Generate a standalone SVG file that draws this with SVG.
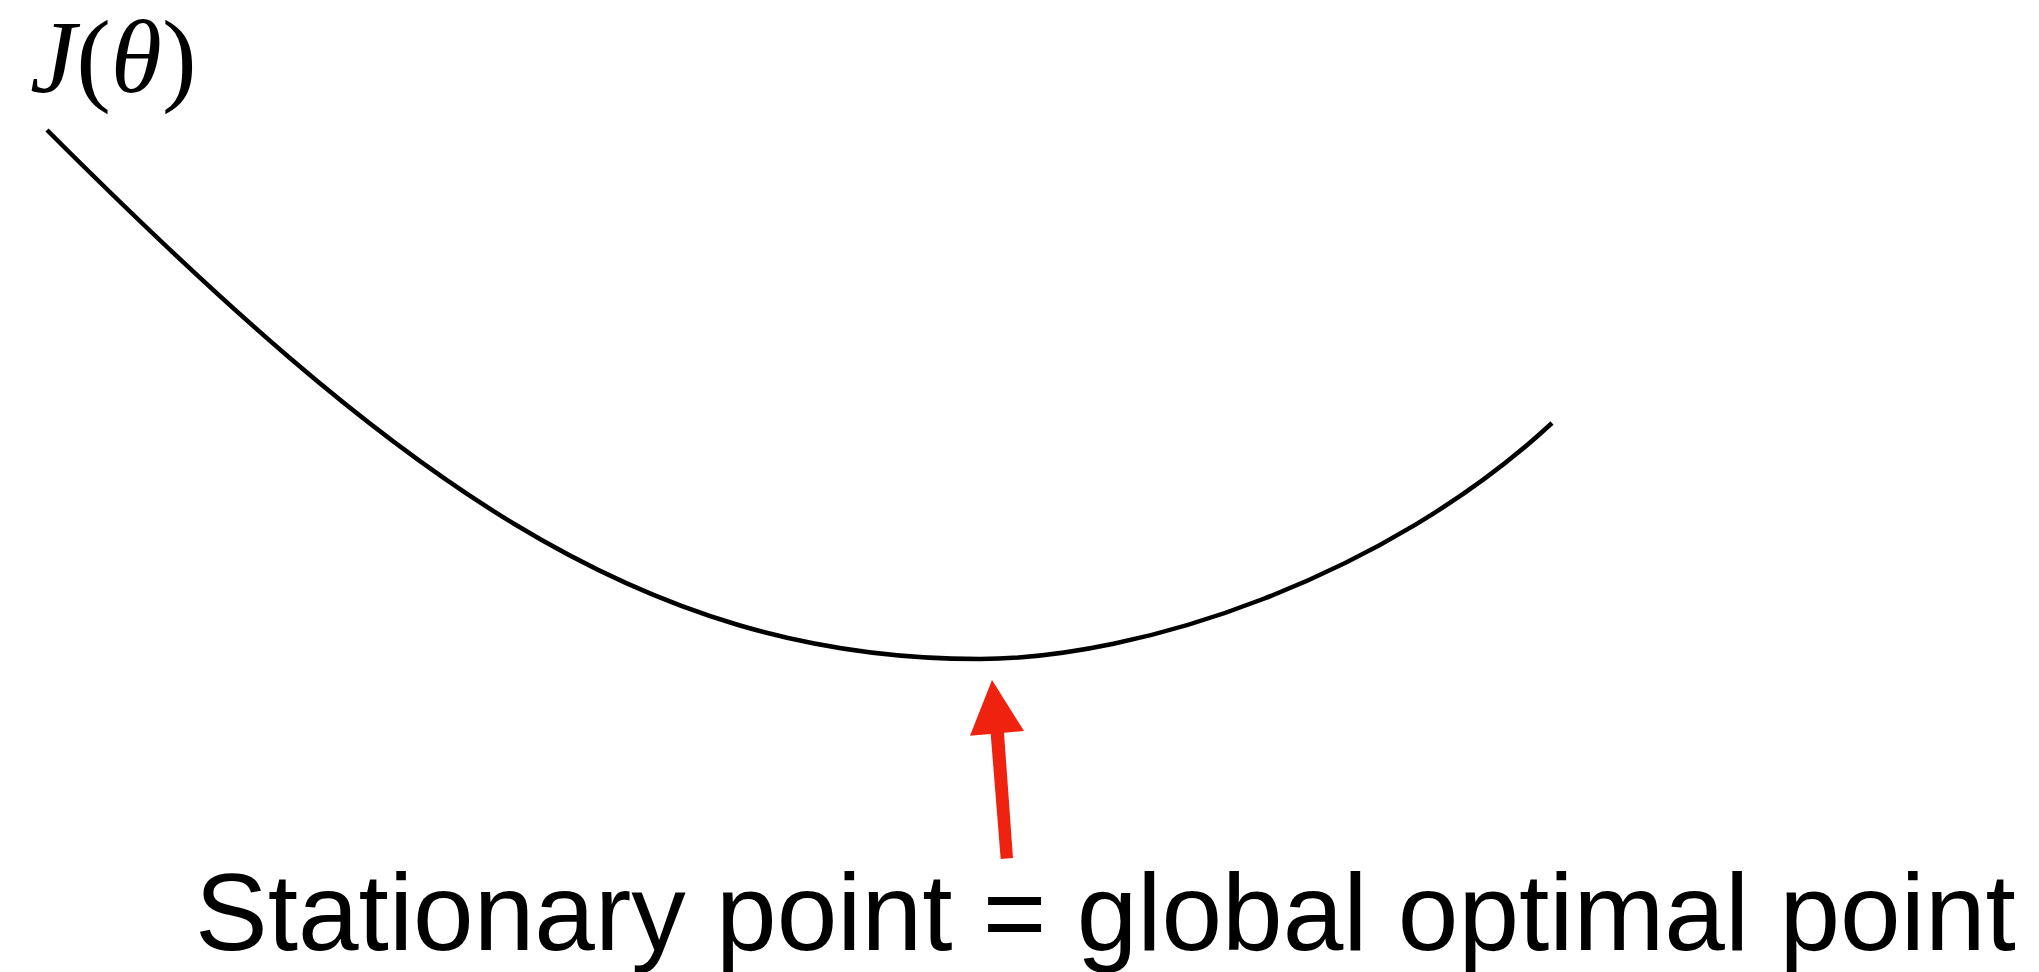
<svg xmlns="http://www.w3.org/2000/svg" width="2039" height="972" viewBox="0 0 2039 972">
<style>
.curve{fill:none;stroke:#000;stroke-width:4.5}
.arrow{fill:#EE220F;stroke:none}
.label{font-family:"Liberation Sans",Arial,sans-serif;font-size:109px;fill:#000}
.math{font-family:"Liberation Serif","Times New Roman",serif;font-size:104px;fill:#000}
.it{font-style:italic}
</style>
<rect width="2039" height="972" fill="#fff"/>
<g id="axis-label">
<text class="math" x="30" y="92"><tspan class="it">J</tspan>(<tspan class="it">θ</tspan>)</text>
</g>
<g id="cost-curve">
<path class="curve" d="M47,130 C391,474 636,659 980,659 C1140,659 1386,577 1552,423"/>
</g>
<g id="connectors">
<polygon class="arrow" points="992,680 1024,731 1004,732.7 1013,858 1000.7,859 990.7,734 970,735.7"/>
</g>
<g id="annotation">
<text class="label" x="195" y="950">Stationary point = global optimal point</text>
</g>
</svg>
